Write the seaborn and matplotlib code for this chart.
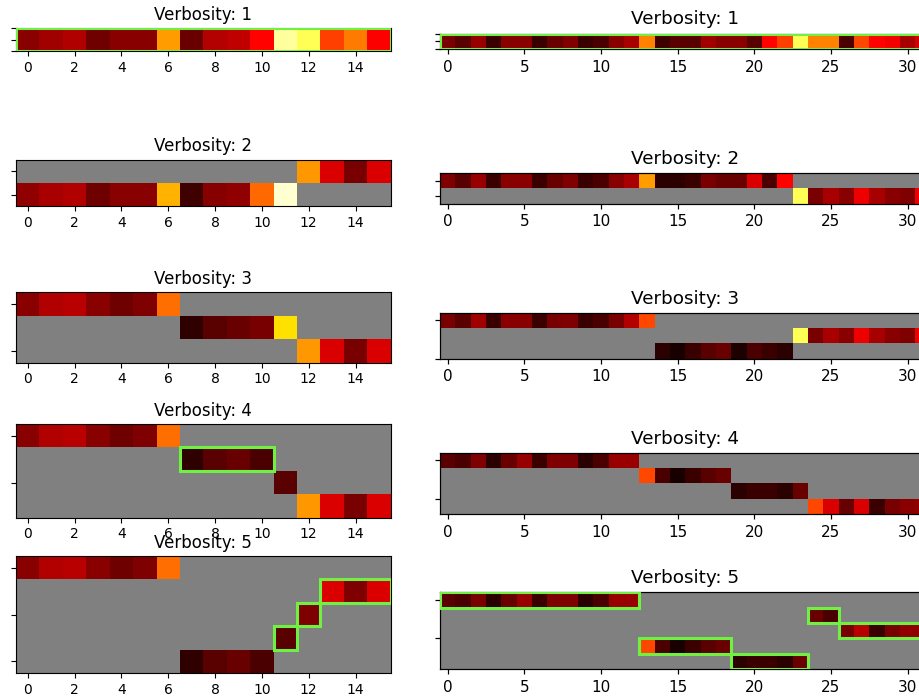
import numpy as np
import pandas as pd
import matplotlib
matplotlib.use("Agg")
import matplotlib.pyplot as plt
from matplotlib.patches import Rectangle
import seaborn as sns

_ = None

# ---------------- data (hot-colormap values, None = masked/gray) ----------------
left_v1 = [
    [0.19, 0.225, 0.247, 0.152, 0.19, 0.19, 0.60, 0.142, 0.25, 0.27, 0.37, 0.90, 0.83, 0.46, 0.55, 0.36],
]
left_v2 = [
    [_, _, _, _, _, _, _, _, _, _, _, _, 0.59, 0.31, 0.167, 0.31],
    [0.20, 0.235, 0.247, 0.152, 0.19, 0.19, 0.63, 0.08, 0.185, 0.20, 0.52, 0.95, _, _, _, _],
]
left_v3 = [
    [0.19, 0.247, 0.258, 0.19, 0.152, 0.175, 0.53, _, _, _, _, _, _, _, _, _],
    [_, _, _, _, _, _, _, 0.056, 0.118, 0.142, 0.167, 0.70, _, _, _, _],
    [_, _, _, _, _, _, _, _, _, _, _, _, 0.59, 0.31, 0.167, 0.31],
]
left_v4 = [
    [0.19, 0.247, 0.258, 0.19, 0.152, 0.175, 0.53, _, _, _, _, _, _, _, _, _],
    [_, _, _, _, _, _, _, 0.056, 0.118, 0.142, 0.095, _, _, _, _, _],
    [_, _, _, _, _, _, _, _, _, _, _, 0.118, _, _, _, _],
    [_, _, _, _, _, _, _, _, _, _, _, _, 0.59, 0.31, 0.167, 0.31],
]
left_v5 = [
    [0.19, 0.247, 0.258, 0.19, 0.152, 0.175, 0.53, _, _, _, _, _, _, _, _, _],
    [_, _, _, _, _, _, _, _, _, _, _, _, _, 0.31, 0.175, 0.31],
    [_, _, _, _, _, _, _, _, _, _, _, _, 0.175, _, _, _],
    [_, _, _, _, _, _, _, _, _, _, _, 0.118, _, _, _, _],
    [_, _, _, _, _, _, _, 0.056, 0.118, 0.142, 0.095, _, _, _, _, _],
]

right_v1 = [
    [0.167, 0.118, 0.213, 0.072, 0.19, 0.19, 0.072, 0.142, 0.175, 0.072, 0.095, 0.19, 0.235, 0.56,
     0.08, 0.118, 0.118, 0.224, 0.19, 0.19, 0.118, 0.37, 0.46, 0.83, 0.56, 0.56, 0.095, 0.47,
     0.37, 0.35, 0.235, 0.30],
]
right_v2 = [
    [0.175, 0.118, 0.213, 0.072, 0.19, 0.19, 0.072, 0.142, 0.175, 0.072, 0.095, 0.19, 0.235, 0.60,
     0.047, 0.047, 0.072, 0.167, 0.142, 0.142, 0.31, 0.095, 0.37, _, _, _, _, _, _, _, _, _],
    [_, _, _, _, _, _, _, _, _, _, _, _, _, _, _, _, _, _, _, _, _, _, _,
     0.83, 0.167, 0.235, 0.19, 0.34, 0.235, 0.19, 0.175, 0.34],
]
right_v3 = [
    [0.167, 0.118, 0.224, 0.072, 0.19, 0.19, 0.072, 0.167, 0.175, 0.072, 0.095, 0.167, 0.247, 0.47,
     _, _, _, _, _, _, _, _, _, _, _, _, _, _, _, _, _, _],
    [_, _, _, _, _, _, _, _, _, _, _, _, _, _, _, _, _, _, _, _, _, _, _,
     0.83, 0.167, 0.235, 0.19, 0.34, 0.235, 0.19, 0.175, 0.34],
    [_, _, _, _, _, _, _, _, _, _, _, _, _, _,
     0.047, 0.022, 0.072, 0.118, 0.142, 0.03, 0.095, 0.072, 0.047, _, _, _, _, _, _, _, _, _],
]
right_v4 = [
    [0.118, 0.095, 0.175, 0.047, 0.142, 0.213, 0.072, 0.175, 0.175, 0.047, 0.095, 0.213, 0.213,
     _, _, _, _, _, _, _, _, _, _, _, _, _, _, _, _, _, _, _],
    [_, _, _, _, _, _, _, _, _, _, _, _, _,
     0.47, 0.095, 0.022, 0.072, 0.118, 0.142, _, _, _, _, _, _, _, _, _, _, _, _, _],
    [_, _, _, _, _, _, _, _, _, _, _, _, _, _, _, _, _, _, _,
     0.047, 0.072, 0.072, 0.047, 0.142, _, _, _, _, _, _, _, _],
    [_, _, _, _, _, _, _, _, _, _, _, _, _, _, _, _, _, _, _, _, _, _, _, _,
     0.47, 0.31, 0.142, 0.31, 0.072, 0.167, 0.19, 0.20],
]
right_v5 = [
    [0.118, 0.095, 0.167, 0.047, 0.142, 0.213, 0.072, 0.175, 0.175, 0.047, 0.095, 0.213, 0.213,
     _, _, _, _, _, _, _, _, _, _, _, _, _, _, _, _, _, _, _],
    [_, _, _, _, _, _, _, _, _, _, _, _, _, _, _, _, _, _, _, _, _, _, _, _,
     0.142, 0.095, _, _, _, _, _, _],
    [_, _, _, _, _, _, _, _, _, _, _, _, _, _, _, _, _, _, _, _, _, _, _, _, _, _,
     0.167, 0.258, 0.072, 0.167, 0.20, 0.20],
    [_, _, _, _, _, _, _, _, _, _, _, _, _,
     0.47, 0.095, 0.022, 0.072, 0.118, 0.142, _, _, _, _, _, _, _, _, _, _, _, _, _],
    [_, _, _, _, _, _, _, _, _, _, _, _, _, _, _, _, _, _, _,
     0.047, 0.072, 0.072, 0.047, 0.142, _, _, _, _, _, _, _, _],
]

titles = ["Verbosity: 1", "Verbosity: 2", "Verbosity: 3", "Verbosity: 4", "Verbosity: 5"]
left_xticks = [0, 2, 4, 6, 8, 10, 12, 14]
right_xticks = [0, 5, 10, 15, 20, 25, 30]
left_yticks = [[-0.5, 0, 0.5], [0, 1], [0, 2], [0, 2], [0, 2, 4]]
right_yticks = [[-0.5, 0, 0.5], [0, 1], [0, 2.5], [0, 2.5], [0, 2.5]]

# highlighted spans: (row, first col, n cols)
left_boxes = [[(0, 0, 16)], [], [], [(1, 7, 4)], [(1, 13, 3), (2, 12, 1), (3, 11, 1)]]
right_boxes = [[(0, 0, 32)], [], [], [],
               [(0, 0, 13), (1, 24, 2), (2, 26, 6), (3, 13, 6), (4, 19, 5)]]

left_data = [left_v1, left_v2, left_v3, left_v4, left_v5]
right_data = [right_v1, right_v2, right_v3, right_v4, right_v5]

# ---------------- layout ----------------
W, H = 920, 700
fig = plt.figure(figsize=(W / 100, H / 100), dpi=100)

left_tops = [28, 159.5, 292.3, 424, 556]
right_tops = [33.5, 172.9, 312.7, 452.7, 592.3]
L_X0, L_UNIT = 16, 374.7 / 16
R_X0, R_UNIT = 440, 15.33

GREEN = "#70f040"


def draw(data, top, x0, unit, xticks, yticks, boxes, title, fs_tick, fs_title, scale):
    arr = np.array(data, dtype=float)
    nr, nc = arr.shape
    w, h = nc * unit, nr * unit
    ax = fig.add_axes([x0 / W, 1 - (top + h) / H, w / W, h / H])
    ax.set_facecolor("#808080")
    df = pd.DataFrame(arr)
    sns.heatmap(df, ax=ax, cmap="hot", vmin=0, vmax=1, cbar=False,
                xticklabels=False, yticklabels=False)
    ax.set_xlim(0, nc)
    ax.set_ylim(nr, 0)
    for sp in ax.spines.values():
        sp.set_visible(True)
        sp.set_linewidth(0.8 * scale)
        sp.set_color("black")
    ax.set_xticks([t + 0.5 for t in xticks])
    ax.set_xticklabels([str(t) for t in xticks], fontsize=fs_tick, rotation=0)
    ax.set_yticks([t + 0.5 for t in yticks])
    ax.set_yticklabels([])
    ax.tick_params(axis="both", length=3.5 * scale, width=0.8 * scale,
                   bottom=True, left=True, pad=3.5 * scale)
    for (r, c, n) in boxes:
        ax.add_patch(Rectangle((c, r), n, 1, fill=False, edgecolor=GREEN,
                               linewidth=2.2, zorder=3))
    ax.set_title(title, fontsize=fs_title, pad=6 * scale)
    return ax


for i in range(5):
    draw(left_data[i], left_tops[i], L_X0, L_UNIT, left_xticks, left_yticks[i],
         left_boxes[i], titles[i], 10, 12, 1.0)
    draw(right_data[i], right_tops[i], R_X0, R_UNIT, right_xticks, right_yticks[i],
         right_boxes[i], titles[i], 11, 13.2, 1.1)

fig.savefig("out.png", dpi=100)
